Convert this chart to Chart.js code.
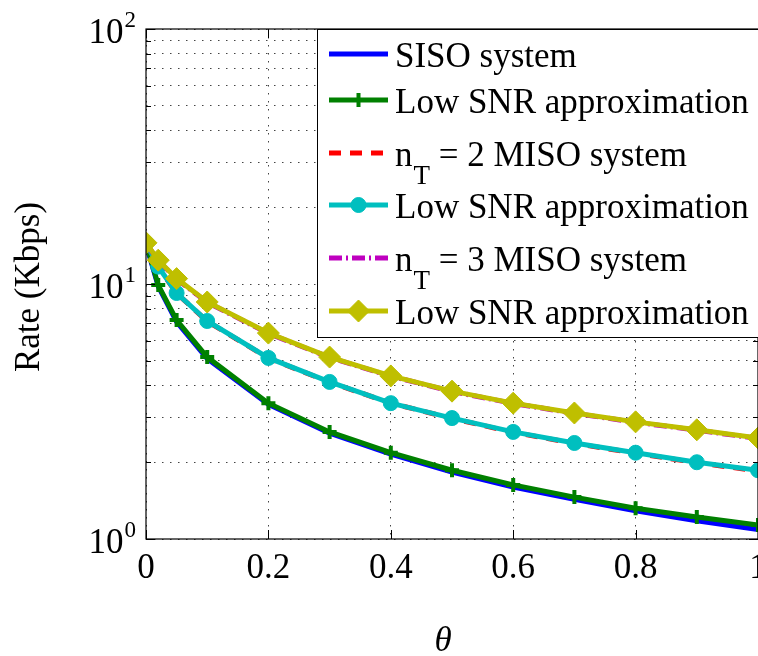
<!DOCTYPE html>
<html>
<head>
<meta charset="utf-8">
<script src="https://cdn.jsdelivr.net/npm/chart.js@4.4.1/dist/chart.umd.min.js"></script>
<style>
  html, body { margin: 0; padding: 0; background: #fff; overflow: hidden; }
  #wrap { width: 770px; height: 656px; }
</style>
</head>
<body>
<div id="wrap"><canvas id="myChart" width="770" height="656"></canvas></div>
<script>
"use strict";

// theta values along the x axis
const thetaVals = [0, 0.02, 0.05, 0.1, 0.2, 0.3, 0.4, 0.5, 0.6, 0.7, 0.8, 0.9, 1];

// rates in Kbps
const sisoRate    = [14.3, 9.8, 7.1, 5.1, 3.37, 2.6, 2.15, 1.83, 1.6, 1.43, 1.29, 1.18, 1.09];
const sisoApprox  = [14.5, 9.9, 7.22, 5.17, 3.41, 2.63, 2.18, 1.86, 1.63, 1.46, 1.32, 1.22, 1.135];
const miso2Rate   = [14.45, 11.65, 9.2, 7.14, 5.12, 4.12, 3.41, 2.97, 2.62, 2.37, 2.17, 1.99, 1.85];
const miso2Approx = [14.5, 11.7, 9.22, 7.16, 5.13, 4.13, 3.41, 2.98, 2.63, 2.38, 2.18, 2.0, 1.86];
const miso3Rate   = [14.45, 12.35, 10.45, 8.47, 6.4, 5.15, 4.35, 3.79, 3.4, 3.11, 2.87, 2.67, 2.48];
const miso3Approx = [14.5, 12.4, 10.5, 8.5, 6.42, 5.17, 4.36, 3.8, 3.41, 3.12, 2.88, 2.68, 2.49];

const seriesLabels = ["SISO system", "Low SNR approximation", "n_T = 2 MISO system",
  "Low SNR approximation", "n_T = 3 MISO system", "Low SNR approximation"];

// tick labels
const xTicks = [0, 0.2, 0.4, 0.6, 0.8, 1];
const xTickLabels = ["0", "0.2", "0.4", "0.6", "0.8", "1"];
const yMajor = [1, 10, 100];
const yTickLabels = [["10", "0"], ["10", "1"], ["10", "2"]];
const yGrid = [1, 2, 3, 4, 5, 6, 7, 8, 9, 10, 20, 30, 40, 50, 60, 70, 80, 90, 100];

const xTitle = "\u03b8";
const yTitle = "Rate (Kbps)";

const serif = '"Liberation Serif", "Times New Roman", serif';

const toPoints = (ys) => ys.map((y, i) => ({ x: thetaVals[i], y: y }));

const styles = [
  { color: "#0000ff", dash: [], point: false, radius: 0 },
  { color: "#008000", dash: [], point: "cross", radius: 7, bw: 4 },
  { color: "#ff0000", dash: [12, 9], point: false, radius: 0 },
  { color: "#00bfbf", dash: [], point: "circle", radius: 7.5, bw: 1 },
  { color: "#bf00bf", dash: [13, 4, 2, 4], point: false, radius: 0 },
  { color: "#bfbf00", dash: [], point: "rectRot", radius: 11, bw: 1 }
];

const allSeries = [sisoRate, sisoApprox, miso2Rate, miso2Approx, miso3Rate, miso3Approx];

const datasets = allSeries.map((ys, i) => ({
  label: seriesLabels[i],
  data: toPoints(ys),
  borderColor: styles[i].color,
  backgroundColor: styles[i].color,
  borderWidth: 5,
  borderDash: styles[i].dash,
  pointStyle: styles[i].point || "circle",
  pointRadius: styles[i].radius,
  pointBorderWidth: styles[i].bw || 0,
  pointBackgroundColor: styles[i].color,
  pointBorderColor: styles[i].color,
  tension: 0,
  order: 10 - i
}));

// matlab-like axes box, ticks and labels
const axesPlugin = {
  id: "axesPlugin",
  afterDraw(chart) {
    const ctx = chart.ctx;
    const a = chart.chartArea;
    const xs = chart.scales.x;
    const ys = chart.scales.y;
    ctx.save();
    ctx.strokeStyle = "#000";
    ctx.lineWidth = 1.2;
    ctx.setLineDash([]);
    ctx.strokeRect(a.left, a.top, a.right - a.left, a.bottom - a.top);

    // tick marks
    ctx.lineWidth = 1;
    ctx.beginPath();
    yGrid.forEach((v) => {
      const py = Math.round(ys.getPixelForValue(v)) + 0.5;
      const len = yMajor.includes(v) ? 9 : 5;
      ctx.moveTo(a.left, py); ctx.lineTo(a.left + len, py);
      ctx.moveTo(a.right, py); ctx.lineTo(a.right - len, py);
    });
    xTicks.forEach((v) => {
      const px = Math.round(xs.getPixelForValue(v)) + 0.5;
      ctx.moveTo(px, a.bottom); ctx.lineTo(px, a.bottom - 9);
      ctx.moveTo(px, a.top); ctx.lineTo(px, a.top + 9);
    });
    ctx.stroke();

    ctx.fillStyle = "#000";
    // x tick labels
    ctx.font = "35px " + serif;
    ctx.textAlign = "center";
    ctx.textBaseline = "alphabetic";
    xTicks.forEach((v, i) => {
      ctx.fillText(xTickLabels[i], xs.getPixelForValue(v), a.bottom + 39);
    });

    // y tick labels with superscript
    yMajor.forEach((v, i) => {
      const py = ys.getPixelForValue(v);
      ctx.font = "23px " + serif;
      const supW = ctx.measureText(yTickLabels[i][1]).width;
      ctx.textAlign = "left";
      ctx.fillText(yTickLabels[i][1], a.left - 10 - supW, py - 2);
      ctx.font = "35px " + serif;
      ctx.textAlign = "right";
      ctx.fillText(yTickLabels[i][0], a.left - 11 - supW, py + 14);
    });

    // axis titles
    ctx.font = "35px " + serif;
    ctx.textAlign = "center";
    ctx.save();
    ctx.translate(39, (a.top + a.bottom) / 2 + 3);
    ctx.rotate(-Math.PI / 2);
    ctx.fillText(yTitle, 0, 0);
    ctx.restore();
    ctx.font = "italic 35px " + serif;
    ctx.fillText(xTitle, 443, 651);
    ctx.restore();
  }
};

// legend box in the top right corner
const legendPlugin = {
  id: "legendPlugin",
  afterDraw(chart) {
    const ctx = chart.ctx;
    const a = chart.chartArea;
    const left = 317, top = a.top, bottom = 337;
    const rowOffsets = [25, 71, 124, 176, 229, 282];
    ctx.save();
    ctx.fillStyle = "#fff";
    ctx.fillRect(left, top, 800 - left, bottom - top);
    ctx.strokeStyle = "#000";
    ctx.lineWidth = 1;
    ctx.setLineDash([]);
    ctx.strokeRect(left + 0.5, top + 0.5, 800 - left, bottom - top);

    chart.data.datasets.forEach((ds, i) => {
      const y = top + rowOffsets[i];
      ctx.save();
      ctx.strokeStyle = ds.borderColor;
      ctx.lineWidth = 5;
      ctx.setLineDash(ds.borderDash || []);
      ctx.beginPath();
      ctx.moveTo(329, y);
      ctx.lineTo(388, y);
      ctx.stroke();
      ctx.setLineDash([]);
      if (ds.pointRadius > 0) {
        ctx.fillStyle = ds.pointBackgroundColor;
        ctx.strokeStyle = ds.pointBorderColor;
        ctx.lineWidth = ds.pointBorderWidth;
        Chart.helpers.drawPoint(ctx, {
          pointStyle: ds.pointStyle, radius: ds.pointRadius,
          rotation: 0, borderWidth: ds.pointBorderWidth
        }, 358.5, y);
      }
      ctx.restore();

      ctx.fillStyle = "#000";
      ctx.textAlign = "left";
      ctx.textBaseline = "alphabetic";
      const base = y + 13;
      let tx = 395;
      let label = ds.label;
      if (label.startsWith("n_T")) {
        ctx.font = "35px " + serif;
        ctx.fillText("n", tx, base);
        tx += ctx.measureText("n").width + 1;
        ctx.font = "27px " + serif;
        ctx.fillText("T", tx, base + 18);
        tx += ctx.measureText("T").width;
        label = label.slice(3);
      }
      ctx.font = "35px " + serif;
      ctx.fillText(label, tx, base);
    });
    ctx.restore();
  }
};

const config = {
  type: "line",
  data: { datasets },
  options: {
    responsive: false,
    animation: false,
    layout: { padding: { left: 146, top: 29, right: 9, bottom: 117 } },
    plugins: { legend: { display: false }, tooltip: { enabled: false } },
    scales: {
      x: {
        type: "linear",
        min: 0,
        max: 1,
        afterBuildTicks: (scale) => { scale.ticks = xTicks.map((v) => ({ value: v })); },
        ticks: { display: false },
        grid: { color: "#444", lineWidth: 1, drawTicks: false },
        border: { display: false, dash: [1.5, 6.5] }
      },
      y: {
        type: "logarithmic",
        min: 1,
        max: 100,
        afterBuildTicks: (scale) => { scale.ticks = yGrid.map((v) => ({ value: v })); },
        ticks: { display: false },
        grid: { color: "#444", lineWidth: 1, drawTicks: false },
        border: { display: false, dash: [1.5, 6.5] }
      }
    }
  },
  plugins: [axesPlugin, legendPlugin]
};

const myChart = new Chart(document.getElementById("myChart"), config);
</script>
</body>
</html>
